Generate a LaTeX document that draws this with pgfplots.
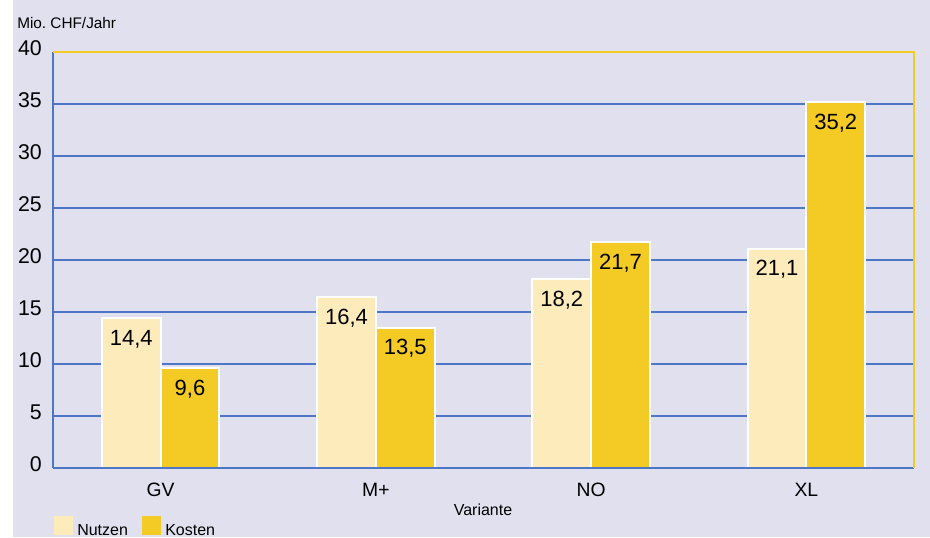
\documentclass[border=0pt]{standalone}
\usepackage{pgfplots}
\pgfplotsset{compat=1.18}
\usepackage{fontspec}
\setmainfont{Liberation Sans}
\frenchspacing
\definecolor{bg}{RGB}{224,224,238}
\definecolor{gridblue}{RGB}{78,118,198}
\definecolor{nutzen}{RGB}{253,235,187}
\definecolor{kosten}{RGB}{244,202,36}
\begin{document}
\begin{tikzpicture}
\fill[bg] (-39.75pt,-51.75pt) rectangle (657.75pt,351pt);
\fill[white] (-39.75pt,-51.75pt) rectangle (-30pt,351pt);
\begin{axis}[
  scale only axis, width=645.75pt, height=312pt,
  xmin=-0.5, xmax=3.5, ymin=0, ymax=40,
  axis line style={draw=none},
  ytick={0,5,...,40},
  xtick={0,1,2,3}, xticklabels={GV,M+,NO,XL},
  major tick length=0pt,
  ymajorgrids, grid style={gridblue, line width=0.8pt},
  /pgf/number format/assume math mode=true,
  tick label style={font=\fontsize{16}{18}\selectfont, text=black},
  yticklabel style={anchor=east, inner sep=0pt, xshift=-8.25pt, yshift=3pt},
  xticklabel style={anchor=north, inner sep=0pt, yshift=-11.25pt, font=\fontsize{14.5}{16}\selectfont},
  ybar, bar width=0.273,
  nodes near coords={\pgfmathprintnumber[fixed,fixed zerofill,precision=1,use comma]{\pgfplotspointmeta}},
  every node near coord/.append style={anchor=north, inner sep=0pt, yshift=-8.25pt, font=\fontsize{16.5}{18}\selectfont, text=black},
  clip=false,
]
\addplot[fill=nutzen, draw=white, line width=1.5pt, bar shift=-0.1365] coordinates {(0,14.4) (1,16.4) (2,18.2) (3,21.1)};
\addplot[fill=kosten, draw=white, line width=1.5pt, bar shift=0.1365] coordinates {(0,9.6) (1,13.5) (2,21.7) (3,35.2)};
\draw[gridblue, line width=1.1pt] (rel axis cs:0,1) -- (rel axis cs:0,0);
\draw[gridblue, line width=1.5pt] (rel axis cs:0,0) -- (rel axis cs:1,0);
\draw[kosten, line width=1.5pt] (rel axis cs:0,1) -- (rel axis cs:1,1) -- (rel axis cs:1,0);
\end{axis}
\node[anchor=base west, inner sep=0pt, font=\fontsize{11.5}{13}\selectfont] at (-27pt,330pt) {Mio. CHF/Jahr};
\node[anchor=base, inner sep=0pt, font=\fontsize{12}{14}\selectfont] at (322.5pt,-35.25pt) {Variante};
\fill[nutzen] (0.75pt,-36pt) rectangle (15pt,-50.25pt);
\fill[kosten] (66.75pt,-36pt) rectangle (81pt,-50.25pt);
\node[anchor=base west, inner sep=0pt, font=\fontsize{12}{14}\selectfont] at (18pt,-50.25pt) {Nutzen};
\node[anchor=base west, inner sep=0pt, font=\fontsize{12}{14}\selectfont] at (84pt,-50.25pt) {Kosten};
\end{tikzpicture}
\end{document}
